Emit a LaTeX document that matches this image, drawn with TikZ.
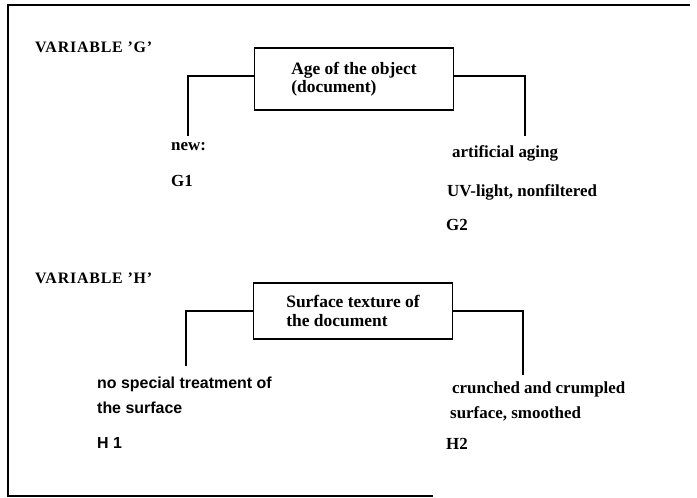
\documentclass[tikz,border=0pt]{standalone}
\usepackage{fontspec}
\setmainfont{Liberation Serif}
\newfontfamily\sansf{Liberation Sans}
\begin{document}
\begin{tikzpicture}[x=1bp,y=-1bp,
  lbl/.style={anchor=base west, inner sep=0pt, font=\bfseries\fontsize{17}{17}\selectfont},
  slbl/.style={anchor=base west, inner sep=0pt, font=\sansf\bfseries\fontsize{16}{16}\selectfont},
  var/.style={anchor=base west, inner sep=0pt, font=\bfseries\fontsize{16}{16}\selectfont\addfontfeature{LetterSpace=5}},
  varbox/.style={draw, line width=1.4bp, minimum width=199bp, align=left, inner sep=0pt, font=\bfseries\fontsize{17.5}{18.5}\selectfont},
  conn/.style={line width=1.2bp},
  frameline/.style={line width=1.6bp}]
\fill[white] (0,0) rectangle (697,498);
\useasboundingbox (0,0) rectangle (697,498);
\draw[frameline] (690,5) -- (8,5) -- (8,496) -- (433,496);

% Variable G
\node[var] (varG) at (35,53) {VARIABLE 'G'};
\node[varbox, minimum height=62bp] (ageG) at (354,79) {Age of the object\\(document)};
\coordinate (g1top) at (188,136);
\coordinate (g2top) at (525,136);
\draw[conn] ([yshift=3bp]ageG.west) -| (g1top);
\draw[conn] ([yshift=3bp]ageG.east) -| (g2top);
\node[lbl] (new) at (171,151) {new:};
\node[lbl] (g1) at (171,187) {G1};
\node[lbl] (aging) at (452,158) {artificial aging};
\node[lbl] (uv) at (447,197) {UV-light, nonfiltered};
\node[lbl] (g2) at (446,231) {G2};

% Variable H
\node[var] (varH) at (35,283) {VARIABLE 'H'};
\node[varbox, minimum height=56bp] (surfH) at (353,311) {Surface texture of\\the document};
\coordinate (h1top) at (186,366);
\coordinate (h2top) at (523,375);
\draw[conn] (surfH.west) -| (h1top);
\draw[conn] (surfH.east) -| (h2top);
\node[slbl] (h1a) at (97,388) {no special treatment of};
\node[slbl] (h1b) at (97,413) {the surface};
\node[slbl] (h1) at (97,448) {H 1};
\node[lbl] (h2a) at (452,393) {crunched and crumpled};
\node[lbl] (h2b) at (450,418) {surface, smoothed};
\node[lbl] (h2) at (446,449) {H2};
\end{tikzpicture}
\end{document}
